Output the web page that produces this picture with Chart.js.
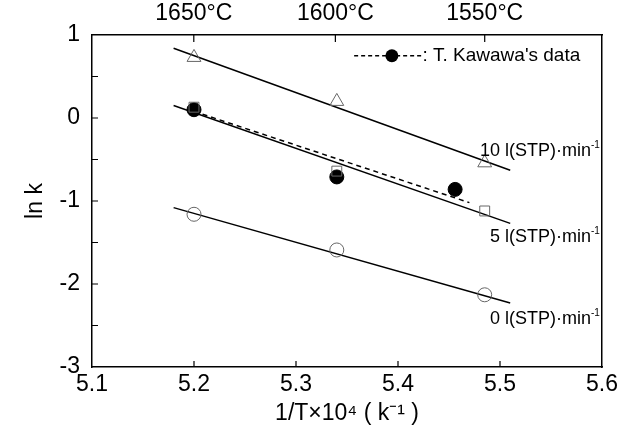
<!DOCTYPE html>
<html>
<head>
<meta charset="utf-8">
<script src="https://cdn.jsdelivr.net/npm/chart.js@4.4.1/dist/chart.umd.min.js"></script>
<style>
    html, body { margin: 0; padding: 0; background: #fff; }
    #wrap { width: 635px; height: 443px; }
</style>
</head>
<body>
<div id="wrap"><canvas id="arrhenius"></canvas></div>
<script>
// values (x = 1/T x 10^4, y = ln k)
const tempsC = [1650, 1600, 1550];
const pointX = [5.2, 5.34, 5.485];
const lnk10 = [0.73, 0.2, -0.54];
const lnk5 = [0.13, -0.64, -1.12];
const lnk0 = [-1.16, -1.59, -2.13];
const kawawaX = [5.2, 5.34, 5.456];
const kawawaY = [0.1, -0.71, -0.86];

// fitted lines (end points)
const fitX = [5.18, 5.51];
const fit10 = [0.84, -0.63];
const fit5 = [0.15, -1.27];
const fit0 = [-1.08, -2.23];
const kawawaFitX = [5.2, 5.47];
const kawawaFitY = [0.08, -1.02];

const flowLabels = ["10 l(STP)·min", "5 l(STP)·min", "0 l(STP)·min"];

const FONT = "'Liberation Sans', Arial, sans-serif";
const toXY = (xs, ys) => xs.map((x, i) => ({ x: x, y: ys[i] }));

function fitLine(xs, ys, dash) {
    return {
        type: "line",
        data: toXY(xs, ys),
        borderColor: "#000",
        borderWidth: 1.5,
        borderDash: dash || [],
        pointRadius: 0,
        fill: false,
        order: 2,
    };
}

function markers(xs, ys, style, radius, filled) {
    return {
        type: "scatter",
        data: toXY(xs, ys),
        pointStyle: style,
        pointRadius: radius,
        pointBorderWidth: 1,
        pointBorderColor: filled ? "#000" : "#666",
        pointBackgroundColor: filled ? "#000" : "rgba(0,0,0,0)",
        order: 1,
    };
}

// inward tick marks, labels and the legend drawn on top
const decorations = {
    id: "decorations",
    afterDraw(chart) {
        const ctx = chart.ctx;
        const { left, right, top, bottom } = chart.chartArea;
        const xs = chart.scales.x, ys = chart.scales.y;
        ctx.save();
        ctx.strokeStyle = "#000";
        ctx.lineWidth = 1.2;
        ctx.beginPath();
        [5.2, 5.3, 5.4, 5.5].forEach((v) => {
            const px = xs.getPixelForValue(v);
            ctx.moveTo(px, bottom);
            ctx.lineTo(px, bottom - 6);
        });
        tempsC.forEach((t) => {
            const px = xs.getPixelForValue(1e4 / (t + 273.15));
            ctx.moveTo(px, top);
            ctx.lineTo(px, top + 7);
        });
        [0.5, 0, -0.5, -1, -1.5, -2, -2.5].forEach((v) => {
            const py = ys.getPixelForValue(v);
            ctx.moveTo(left, py);
            ctx.lineTo(left + 6, py);
        });
        ctx.stroke();

        // flow-rate labels
        const labelY = [-0.4, -1.44, -2.42];
        ctx.fillStyle = "#000";
        ctx.textBaseline = "middle";
        flowLabels.forEach((txt, i) => {
            const py = ys.getPixelForValue(labelY[i]);
            ctx.font = "18px " + FONT;
            ctx.textAlign = "right";
            ctx.fillText(txt, right - 11, py);
            ctx.font = "10px " + FONT;
            ctx.textAlign = "left";
            ctx.fillText("-1", right - 11, py - 6);
        });

        // legend for Kawawa's data
        const ly = ys.getPixelForValue(0.75);
        const lx0 = xs.getPixelForValue(5.357);
        const lxDot = xs.getPixelForValue(5.394);
        const lx1 = xs.getPixelForValue(5.423);
        ctx.setLineDash([4, 3]);
        ctx.lineWidth = 1.5;
        ctx.beginPath();
        ctx.moveTo(lx0, ly);
        ctx.lineTo(lx1, ly);
        ctx.stroke();
        ctx.setLineDash([]);
        ctx.beginPath();
        ctx.arc(lxDot, ly, 6.5, 0, Math.PI * 2);
        ctx.fill();
        ctx.font = "19px " + FONT;
        ctx.textAlign = "left";
        ctx.fillText(": T. Kawawa's data", lx1 + 1, ly);
        ctx.restore();
    },
};

const axisFont = { family: FONT, size: 23 };

const config = {
    type: "scatter",
    data: {
        datasets: [
            fitLine(fitX, fit10),
            fitLine(fitX, fit5),
            fitLine(fitX, fit0),
            fitLine(kawawaFitX, kawawaFitY, [5, 4]),
            markers(pointX, lnk10, "triangle", 8, false),
            markers(pointX, lnk5, "rect", 7, false),
            markers(pointX, lnk0, "circle", 7, false),
            markers(kawawaX, kawawaY, "circle", 7, true),
        ],
    },
    options: {
        responsive: true,
        maintainAspectRatio: false,
        animation: false,
        layout: { padding: 0 },
        plugins: {
            legend: { display: false },
            tooltip: { enabled: false },
        },
        scales: {
            x: {
                type: "linear",
                position: "bottom",
                min: 5.1,
                max: 5.6,
                afterBuildTicks: (scale) => {
                    scale.ticks = [5.1, 5.2, 5.3, 5.4, 5.5, 5.6].map((v) => ({ value: v }));
                },
                ticks: {
                    callback: (v) => v.toFixed(1),
                    font: axisFont,
                    color: "#000",
                    padding: 4,
                    maxRotation: 0,
                },
                grid: { display: false, drawTicks: false },
                border: { display: true, color: "#000", width: 1.5 },
                title: {
                    display: true,
                    text: "1/T×10⁴ ( k⁻¹ )",
                    font: axisFont,
                    color: "#000",
                    padding: { top: 0, bottom: 16 },
                },
                afterFit: (scale) => { scale.height = 76; },
            },
            xTop: {
                type: "linear",
                position: "top",
                min: 5.1,
                max: 5.6,
                afterBuildTicks: (scale) => {
                    scale.ticks = tempsC.map((t) => ({ value: 1e4 / (t + 273.15) }));
                },
                ticks: {
                    callback: (v, i) => tempsC[i] + "°C",
                    font: axisFont,
                    color: "#000",
                    padding: 8,
                    maxRotation: 0,
                    autoSkip: false,
                },
                grid: { display: false, drawTicks: false },
                border: { display: true, color: "#000", width: 1.5 },
                afterFit: (scale) => { scale.height = 35; },
            },
            y: {
                type: "linear",
                min: -3,
                max: 1,
                ticks: {
                    stepSize: 1,
                    font: axisFont,
                    color: "#000",
                    padding: 12,
                },
                grid: { display: false, drawTicks: false },
                border: { display: true, color: "#000", width: 1.5 },
                title: {
                    display: true,
                    text: "ln k",
                    font: axisFont,
                    color: "#000",
                    padding: { top: 22, bottom: 0 },
                },
                afterFit: (scale) => { scale.width = 92; },
            },
            yRight: {
                type: "linear",
                position: "right",
                min: -3,
                max: 1,
                ticks: { display: false },
                grid: { display: false, drawTicks: false },
                border: { display: true, color: "#000", width: 1.5 },
                afterFit: (scale) => { scale.width = 33; },
            },
        },
    },
    plugins: [decorations],
};

new Chart(document.getElementById("arrhenius"), config);
</script>
</body>
</html>
